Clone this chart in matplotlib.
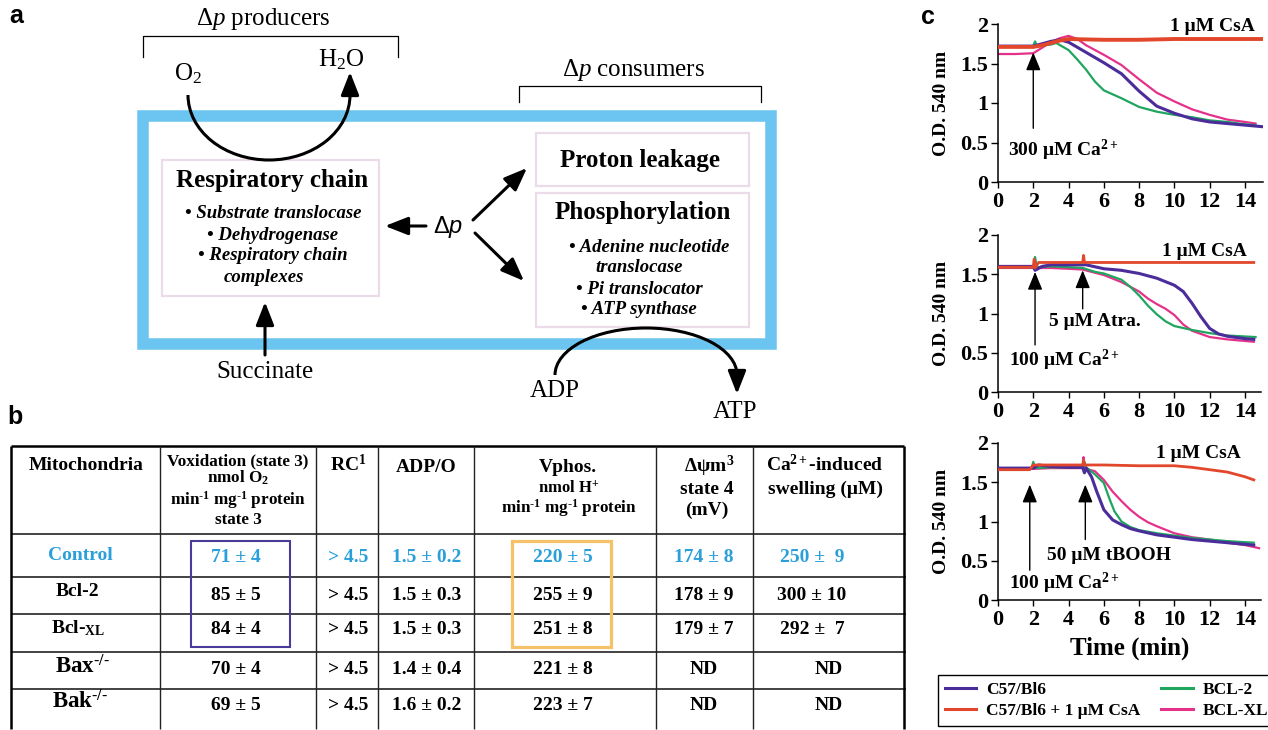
import numpy as np
import matplotlib.pyplot as plt
from matplotlib.patches import Rectangle, Arc

plt.rcParams['font.family'] = 'Liberation Serif'
plt.rcParams['mathtext.fontset'] = 'custom'
plt.rcParams['mathtext.rm'] = 'Liberation Serif'
plt.rcParams['mathtext.it'] = 'Liberation Serif:italic'
plt.rcParams['mathtext.bf'] = 'Liberation Serif:bold'

HY = '\u2010'  # plain hyphen, mathtext would turn '-' into a minus sign

# ---------------- table (panel b)
mito = ['Control', 'Bcl-2', 'Bcl-$_{\\mathregular{XL}}$',
        'Bax$^{\\mathregular{%s/%s}}$' % (HY, HY), 'Bak$^{\\mathregular{%s/%s}}$' % (HY, HY)]
v_ox = ['71 ± 4', '85 ± 5', '84 ± 4', '70 ± 4', '69 ± 5']
rc = ['> 4.5', '> 4.5', '> 4.5', '> 4.5', '> 4.5']
adp_o = ['1.5 ± 0.2', '1.5 ± 0.3', '1.5 ± 0.3', '1.4 ± 0.4', '1.6 ± 0.2']
v_phos = ['220 ± 5', '255 ± 9', '251 ± 8', '221 ± 8', '223 ± 7']
dpsi = ['174 ± 8', '178 ± 9', '179 ± 7', 'ND', 'ND']
ca_swell = ['250 ±  9', '300 ± 10', '292 ±  7', 'ND', 'ND']

# ---------------- swelling traces (panel c), time in min, O.D. 540 nm
# 300 uM Ca2+
t1_c57 = [0, 1, 2, 2.5, 3, 3.5, 4, 5, 6, 7, 8, 9, 10, 11, 12, 13, 14, 15]
od1_c57 = [1.72, 1.72, 1.72, 1.75, 1.78, 1.80, 1.77, 1.64, 1.51, 1.37, 1.15, 0.96, 0.87, 0.80, 0.76, 0.74, 0.72, 0.70]
t1_csa = [0, 1, 2, 2.5, 3, 3.5, 4, 6, 8, 10, 12, 14, 15]
od1_csa = [1.71, 1.71, 1.71, 1.73, 1.76, 1.79, 1.81, 1.80, 1.80, 1.81, 1.81, 1.81, 1.81]
t1_bcl2 = [0, 1, 2, 2.1, 2.2, 3, 3.3, 4, 4.5, 5, 5.5, 6, 7, 8, 9, 10, 11, 12, 13, 14, 14.6]
od1_bcl2 = [1.72, 1.72, 1.72, 1.78, 1.72, 1.74, 1.76, 1.67, 1.55, 1.42, 1.27, 1.16, 1.06, 0.95, 0.89, 0.85, 0.82, 0.78, 0.76, 0.73, 0.72]
t1_xl = [0, 1, 2, 2.5, 3, 3.5, 4, 4.5, 5, 6, 7, 8, 9, 10, 11, 12, 13, 14, 14.6]
od1_xl = [1.62, 1.62, 1.63, 1.70, 1.77, 1.82, 1.85, 1.81, 1.73, 1.61, 1.48, 1.30, 1.13, 1.02, 0.92, 0.85, 0.79, 0.76, 0.74]

# 100 uM Ca2+ + 5 uM atractyloside
t2_c57 = [0, 1, 2, 2.1, 2.5, 3, 4, 5, 6, 7, 8, 9, 10, 10.5, 11, 11.5, 12, 12.5, 13, 14, 14.5]
od2_c57 = [1.60, 1.60, 1.60, 1.55, 1.60, 1.62, 1.62, 1.62, 1.57, 1.55, 1.51, 1.45, 1.36, 1.28, 1.13, 0.96, 0.81, 0.74, 0.71, 0.68, 0.67]
t2_csa = [0, 1, 2, 2.05, 2.1, 2.3, 3, 4, 4.8, 4.85, 4.9, 6, 8, 10, 12, 14, 14.5]
od2_csa = [1.59, 1.59, 1.59, 1.69, 1.58, 1.65, 1.65, 1.65, 1.65, 1.74, 1.65, 1.65, 1.65, 1.65, 1.65, 1.65, 1.65]
t2_bcl2 = [0, 1, 2, 2.1, 2.2, 3, 4, 4.8, 5.5, 6, 7, 7.5, 8, 8.5, 9, 9.5, 10, 11, 12, 13, 14.6]
od2_bcl2 = [1.59, 1.59, 1.59, 1.72, 1.59, 1.60, 1.59, 1.58, 1.53, 1.51, 1.43, 1.34, 1.23, 1.10, 0.99, 0.90, 0.84, 0.79, 0.75, 0.72, 0.70]
t2_xl = [0, 1, 2, 3, 4, 4.8, 6, 7, 8, 8.5, 9, 9.5, 10, 10.5, 11, 12, 13, 14.5]
od2_xl = [1.58, 1.58, 1.58, 1.58, 1.57, 1.56, 1.49, 1.40, 1.28, 1.19, 1.12, 1.06, 0.98, 0.86, 0.78, 0.70, 0.67, 0.64]

# 100 uM Ca2+ + 50 uM tBOOH
t3_c57 = [0, 1, 2, 2.3, 3, 4, 4.8, 4.9, 5, 5.3, 5.6, 6, 6.5, 7, 7.5, 8, 9, 10, 11, 12, 13, 14.5]
od3_c57 = [1.68, 1.68, 1.68, 1.72, 1.70, 1.69, 1.69, 1.62, 1.68, 1.57, 1.38, 1.15, 1.02, 0.96, 0.91, 0.88, 0.83, 0.80, 0.77, 0.75, 0.73, 0.70]
t3_csa = [0, 1, 1.8, 2.0, 3, 4, 4.8, 4.85, 4.9, 6, 8, 9, 10, 11, 12, 13, 14, 14.5]
od3_csa = [1.66, 1.66, 1.66, 1.72, 1.72, 1.72, 1.72, 1.78, 1.72, 1.72, 1.71, 1.71, 1.71, 1.69, 1.66, 1.63, 1.57, 1.53]
t3_bcl2 = [0, 1, 1.9, 2.0, 2.1, 3, 4, 4.8, 4.9, 5, 5.5, 6, 6.3, 6.6, 7, 7.5, 8, 9, 10, 11, 12, 13, 14.5]
od3_bcl2 = [1.68, 1.68, 1.68, 1.76, 1.68, 1.69, 1.69, 1.69, 1.76, 1.69, 1.60, 1.49, 1.30, 1.13, 1.00, 0.93, 0.89, 0.85, 0.82, 0.79, 0.77, 0.75, 0.73]
t3_xl = [0, 1, 2, 3, 4, 4.8, 4.85, 4.9, 5, 5.5, 6, 6.5, 7, 7.5, 8, 8.5, 9, 10, 11, 12, 13, 14, 14.8]
od3_xl = [1.67, 1.67, 1.67, 1.68, 1.68, 1.68, 1.82, 1.68, 1.67, 1.64, 1.53, 1.38, 1.26, 1.15, 1.06, 0.99, 0.94, 0.85, 0.80, 0.77, 0.73, 0.70, 0.66]

legend_labels = ['C57/Bl6', 'C57/Bl6 + 1 μM CsA', 'BCL-2', 'BCL-XL']
col_c57 = '#4a2c9b'
col_csa = '#e2462b'
col_bcl2 = '#1fa55e'
col_xl = '#e5318a'

W, H = 1268, 730
fig = plt.figure(figsize=(12.68, 7.30), dpi=100)
ax0 = fig.add_axes([0, 0, 1, 1])
ax0.set_xlim(0, W)
ax0.set_ylim(H, 0)
ax0.axis('off')


def arrow(ax, x0, y0, x1, y1, lw=2.2, hl=1.4, hw=0.55, z=5):
    ax.annotate('', xy=(x1, y1), xytext=(x0, y0),
                arrowprops=dict(arrowstyle='-|>,head_length=%g,head_width=%g' % (hl, hw),
                                lw=lw, color='k', shrinkA=0, shrinkB=0,
                                mutation_scale=10), zorder=z)


def txt(x, y, s, size=14, weight='bold', style='normal', color='k', ha='center', va='center', fam='Liberation Serif'):
    ax0.text(x, y, s, fontsize=size, fontweight=weight, fontstyle=style, color=color,
             ha=ha, va=va, family=fam)


# ================= panel a
txt(16, 16, 'a', size=18, fam='Liberation Sans')
ax0.add_patch(Rectangle((142.5, 116), 628, 227.5, fill=False, ec='#6cc5f0', lw=8.3, zorder=1))
ax0.add_patch(Rectangle((162, 160), 217, 136, fill=False, ec='#ecdbe8', lw=1.6, zorder=2))
ax0.add_patch(Rectangle((536, 133), 213, 53, fill=False, ec='#ecdbe8', lw=1.6, zorder=2))
ax0.add_patch(Rectangle((536, 193), 213, 134, fill=False, ec='#ecdbe8', lw=1.6, zorder=2))

ax0.plot([143, 143, 398, 398], [57, 36, 36, 57], color='k', lw=0.9)
ax0.plot([519, 519, 761, 761], [102, 86, 86, 102], color='k', lw=0.9)
txt(263, 19, 'Δ$\\mathit{p}$ producers', size=18, weight='normal')
txt(633, 70, 'Δ$\\mathit{p}$ consumers', size=18, weight='normal')
txt(188, 74, 'O$_{\\mathregular{2}}$', size=18, weight='normal')
txt(341, 60, 'H$_{\\mathregular{2}}$O', size=18, weight='normal')

ax0.add_patch(Arc((269, 95), 162, 130, theta1=0, theta2=180, lw=2.2, color='k', zorder=5))
arrow(ax0, 350, 96, 350, 72)
ax0.add_patch(Arc((646, 375), 182, 94, theta1=180, theta2=360, lw=2.2, color='k', zorder=5))
arrow(ax0, 737, 374, 737, 394)

txt(272, 181, 'Respiratory chain', size=18)
for yy, s in zip([213, 235, 256, 277],
                 ['• Substrate translocase', '• Dehydrogenase', '• Respiratory chain', 'complexes']):
    txt(273 if s[0] == '•' else 264, yy, s, size=13.5, style='italic')
txt(640, 160, 'Proton leakage', size=18)
txt(643, 212, 'Phosphorylation', size=18)
for yy, xx, s in zip([247, 268, 290, 310], [649, 639, 639, 639],
                     ['• Adenine nucleotide', 'translocase', '• Pi translocator', '• ATP synthase']):
    txt(xx, yy, s, size=13.5, style='italic')

ax0.text(449, 233, 'Δ', fontsize=17, family='Liberation Sans', ha='right', va='baseline')
ax0.text(449, 233, 'p', fontsize=17, family='Liberation Sans', style='italic', ha='left', va='baseline')
arrow(ax0, 426, 226, 385, 226)
arrow(ax0, 473, 220, 527, 168)
arrow(ax0, 475, 233, 524, 281)
arrow(ax0, 265, 355, 265, 302)
txt(265, 372, 'Succinate', size=18, weight='normal')
txt(555, 391, 'ADP', size=18, weight='normal')
txt(735, 412, 'ATP', size=18, weight='normal')

# ================= panel b
txt(15, 417, 'b', size=18, fam='Liberation Sans')
cols = [11, 160, 316, 378, 474, 656, 753, 904]
rows = [446, 534, 577, 614, 652, 689]
ax0.hlines(rows[0], cols[0], cols[-1], color='k', lw=1.8)
ax0.hlines(rows[1:], cols[0], cols[-1] + 2, color='#222222', lw=1.2)
ax0.vlines([cols[0], cols[-1]], rows[0], 729, color='k', lw=1.8)
ax0.vlines(cols[1:-1], rows[0], 729, color='#222222', lw=1.0)

sup_m1 = '$^{\\mathregular{%s1}}$' % HY
txt(86, 466, 'Mitochondria', size=14)
txt(238, 461, 'Voxidation (state 3)', size=12.3)
txt(238, 478, 'nmol O$_{\\mathregular{2}}$', size=12.3)
txt(238, 500, 'min' + sup_m1 + ' mg' + sup_m1 + ' protein', size=12.3)
txt(238, 520, 'state 3', size=12.3)
txt(348, 465, 'RC$^{\\mathregular{1}}$', size=14)
txt(426, 467, 'ADP/O', size=14)
txt(568, 467, 'Vphos.', size=14)
txt(569, 489, 'nmol H$^{\\mathregular{+}}$', size=12)
txt(569, 508, 'min' + sup_m1 + ' mg' + sup_m1 + ' protein', size=12.3)
txt(709, 466, 'Δψm$^{\\mathregular{3}}$', size=14)
txt(707, 489, 'state 4', size=14)
txt(707, 510, '(mV)', size=14)
txt(825, 465, 'Ca$^{\\mathregular{2+}}$-induced', size=14)
txt(825, 489, 'swelling (μM)', size=14)

row_y = [558, 596, 630, 669, 705]
name_y = [555, 592, 628, 667, 702]
name_x = [80, 77, 78, 82, 80]
blue = '#2a9fda'
for i in range(5):
    c = blue if i == 0 else 'k'
    txt(name_x[i], name_y[i], mito[i], size=16.5 if i >= 3 else 14, color=c)
    txt(236, row_y[i], v_ox[i], color=c)
    txt(348, row_y[i], rc[i], color=c)
    txt(427, row_y[i], adp_o[i], color=c)
    txt(563, row_y[i], v_phos[i], color=c)
    txt(704, row_y[i], dpsi[i], color=c)
    txt(829 if ca_swell[i] == 'ND' else 812, row_y[i], ca_swell[i], color=c)

ax0.add_patch(Rectangle((191, 541), 99, 106, fill=False, ec='#4b3a9a', lw=1.5, zorder=4))
ax0.add_patch(Rectangle((512, 541), 99, 106, fill=False, ec='#f5c26a', lw=2.3, zorder=4))

# ================= panel c
txt(928, 17, 'c', size=18, fam='Liberation Sans')
axes_px = [(24, 182, 15.0), (235, 392, 14.9), (443, 600, 14.9)]
data = [
    [(t1_c57, od1_c57), (t1_csa, od1_csa), (t1_bcl2, od1_bcl2), (t1_xl, od1_xl)],
    [(t2_c57, od2_c57), (t2_csa, od2_csa), (t2_bcl2, od2_bcl2), (t2_xl, od2_xl)],
    [(t3_c57, od3_c57), (t3_csa, od3_csa), (t3_bcl2, od3_bcl2), (t3_xl, od3_xl)],
]
styles = [(col_c57, 2.2, 4), (col_csa, 2.0, 5), (col_bcl2, 1.6, 3), (col_xl, 1.6, 2)]
axs = []
handles = []
for k, (ytop, ybot, xmax) in enumerate(axes_px):
    x0 = 998
    w = 17.64 * xmax
    ax = fig.add_axes([x0 / W, 1 - ybot / H, w / W, (ybot - ytop) / H])
    ax.patch.set_alpha(0)
    for (tt, oo), (cc, lw, z) in zip(data[k], styles):
        if k == 0 and cc == col_csa:
            lw = 2.8
        ln, = ax.plot(tt, oo, color=cc, lw=lw, zorder=z, solid_joinstyle='round')
        if k == 0:
            handles.append(ln)
    ax.set_xlim(0, xmax)
    ax.set_ylim(0, 2)
    ax.set_xticks([0, 2, 4, 6, 8, 10, 12, 14])
    ax.set_yticks([0, 0.5, 1, 1.5, 2])
    ax.set_yticklabels(['0', '0.5', '1', '1.5', '2'])
    ax.spines['top'].set_visible(False)
    ax.spines['right'].set_visible(False)
    ax.spines['left'].set_linewidth(1.1)
    ax.spines['bottom'].set_linewidth(1.1)
    ax.tick_params(axis='y', direction='out', length=5.4, width=1.0, pad=1.5, labelsize=16)
    ax.tick_params(axis='x', direction='out', length=4.5, width=1.0, pad=3, labelsize=16)
    for lb in ax.get_xticklabels() + ax.get_yticklabels():
        lb.set_fontweight('bold')
    ax.set_ylabel('O.D. 540 nm', fontsize=14, fontweight='bold')
    ax.yaxis.set_label_coords(-0.182, 0.5)
    axs.append(ax)

a1, a2, a3 = axs
kw = dict(fontsize=14, fontweight='bold', ha='left', va='center')
a1.text(9.75, 1.97, '1 μM CsA', **kw)
a1.text(0.57, 0.40, '300 μM Ca$^{\\mathregular{2+}}$', **kw)
arrow(a1, 2.0, 0.68, 2.0, 1.64, lw=1.0, hl=1.1, hw=0.45)

a2.text(9.3, 1.79, '1 μM CsA', **kw)
a2.text(2.9, 0.90, '5 μM Atra.', **kw)
a2.text(0.62, 0.40, '100 μM Ca$^{\\mathregular{2+}}$', **kw)
arrow(a2, 2.1, 0.60, 2.1, 1.53, lw=1.0, hl=1.1, hw=0.45)
arrow(a2, 4.8, 1.06, 4.8, 1.55, lw=1.0, hl=1.1, hw=0.45)

a3.text(8.96, 1.87, '1 μM CsA', **kw)
a3.text(2.8, 0.57, '50 μM tBOOH', **kw)
a3.text(0.65, 0.21, '100 μM Ca$^{\\mathregular{2+}}$', **kw)
arrow(a3, 1.8, 0.38, 1.8, 1.47, lw=1.0, hl=1.1, hw=0.45)
arrow(a3, 4.95, 0.77, 4.95, 1.47, lw=1.0, hl=1.1, hw=0.45)

a3.set_xlabel('Time (min)', fontsize=18, fontweight='bold')
a3.xaxis.set_label_coords(0.5, -(637 - 600) / 157.0)

leg = fig.legend(handles, legend_labels, ncol=2, loc='upper left',
                 bbox_to_anchor=(938 / W, 1 - 675 / H), borderaxespad=0,
                 frameon=True, fancybox=False, edgecolor='k', framealpha=1,
                 prop={'family': 'Liberation Serif', 'weight': 'bold', 'size': 12.5},
                 handlelength=1.8, handletextpad=0.58, columnspacing=1.2,
                 labelspacing=0.3, borderpad=0.4)
leg.get_frame().set_linewidth(1.0)
for ln in leg.get_lines():
    ln.set_linewidth(2.2)

fig.savefig('out.png', dpi=100)
